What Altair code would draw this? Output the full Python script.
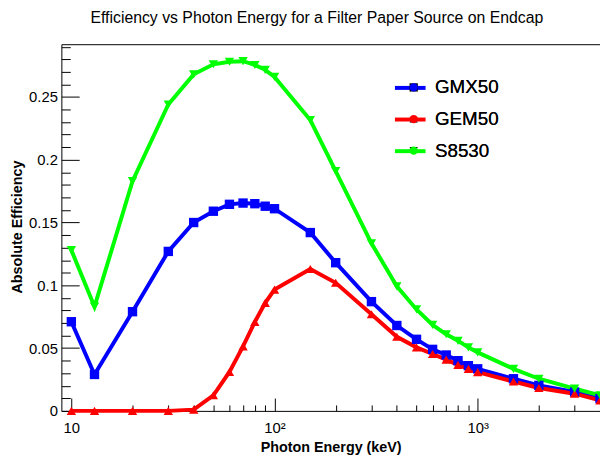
import altair as alt
import pandas as pd

# ---- data ----
energy = [10, 13, 20, 30, 40, 50, 60, 70, 80, 90, 100, 150, 200, 300, 400,
          500, 600, 700, 800, 900, 1000, 1500, 2000, 3000, 4000]
gmx50 = [0.071, 0.029, 0.079, 0.127, 0.150, 0.159, 0.1645, 0.1655, 0.165, 0.163,
         0.161, 0.142, 0.118, 0.087, 0.068, 0.057, 0.049, 0.0445, 0.040, 0.036,
         0.0335, 0.0256, 0.0203, 0.015, 0.0098]
gem50 = [0.0, 0.0, 0.0, 0.0, 0.001, 0.0124, 0.031, 0.0514, 0.0708, 0.086,
         0.0966, 0.113, 0.102, 0.077, 0.059, 0.0506, 0.0453, 0.0408, 0.0366, 0.0335,
         0.0309, 0.0234, 0.0182, 0.0137, 0.0084]
s8530 = [0.128, 0.083, 0.183, 0.244, 0.268, 0.276, 0.278, 0.2785, 0.2755, 0.2716,
         0.266, 0.2316, 0.191, 0.1334, 0.0992, 0.0808, 0.0685, 0.061, 0.0558, 0.0506,
         0.0466, 0.0335, 0.0256, 0.0177, 0.0124]

series_names = ["GMX50", "GEM50", "S8530"]
colors = ["#0000ff", "#ff0000", "#00ff00"]
shapes = ["square", "triangle-up", "triangle-down"]

x_major = [10, 100, 1000]
x_minor = [20, 30, 40, 50, 60, 70, 80, 90, 200, 300, 400, 500, 600, 700, 800, 900,
           2000, 3000, 4000]
y_major = [0, 0.05, 0.1, 0.15, 0.2, 0.25]
y_minor = [0.01, 0.02, 0.03, 0.04, 0.06, 0.07, 0.08, 0.09, 0.11, 0.12, 0.13, 0.14,
           0.16, 0.17, 0.18, 0.19, 0.21, 0.22, 0.23, 0.24, 0.26, 0.27, 0.28, 0.29]

rows = []
for name, vals in zip(series_names, [gmx50, gem50, s8530]):
    for e, v in zip(energy, vals):
        rows.append({"energy": e, "eff": v, "series": name, "name": name})
df = pd.DataFrame(rows)

W, H = 545, 371
FONT = "Liberation Sans"
xscale = alt.Scale(type="log", domain=[8.93, 4000])
yscale = alt.Scale(domain=[0, 0.292])

base = alt.Chart(df)

lines = base.mark_line(strokeWidth=4).encode(
    x=alt.X("energy:Q", scale=xscale, axis=alt.Axis(
        orient="bottom", values=x_major,
        labelExpr="datum.value == 10 ? '10' : datum.value == 100 ? '10²' : datum.value == 1000 ? '10³' : ''",
        ticks=False, domain=True, labelFontSize=15, labelPadding=10,
        title="Photon Energy (keV)", titleFontWeight="bold", titleFontSize=14.5,
        titleY=41, titleBaseline="alphabetic", grid=False)),
    y=alt.Y("eff:Q", scale=yscale, axis=alt.Axis(
        orient="left", values=y_major, format=".2~f", ticks=False, domain=True,
        labelFontSize=15, labelPadding=4, title="Absolute Efficiency",
        titleFontWeight="bold", titleFontSize=14.5, titleX=-44, titleY=184.5,
        titleAngle=270, titleAlign="center", titleBaseline="middle", grid=False)),
    color=alt.Color("series:N", scale=alt.Scale(domain=series_names, range=colors),
                    legend=alt.Legend(orient="none", legendX=335.5, legendY=26.7,
                                      symbolType="stroke", symbolSize=961,
                                      symbolStrokeWidth=4, labelExpr="''",
                                      labelFontSize=19, title=None, padding=0,
                                      rowPadding=4)),
)

leg = dict(orient="none", legendX=347, legendY=34.2, labelFontSize=19, title=None,
           padding=0, rowPadding=12, symbolSize=70, labelOffset=12,
           symbolStrokeWidth=0, labelColor="black")
points = base.mark_point(filled=True, size=90, opacity=1).encode(
    x=alt.X("energy:Q", scale=xscale, axis=alt.Axis(
        orient="top", labels=False, ticks=False, domain=True, title=None, grid=False)),
    y=alt.Y("eff:Q", scale=yscale, axis=alt.Axis(
        orient="right", offset=-W, values=y_major, tickSize=18, labels=False,
        domain=False, title=None, grid=False)),
    fill=alt.Fill("name:N", sort=series_names, scale=alt.Scale(range=colors),
                  legend=alt.Legend(**leg)),
    shape=alt.Shape("name:N", sort=series_names, scale=alt.Scale(range=shapes),
                    legend=alt.Legend(**leg)),
)

ticks1 = base.mark_point(opacity=0).encode(
    x=alt.X("energy:Q", scale=xscale, axis=alt.Axis(
        orient="top", offset=-H, values=x_major, tickSize=13, labels=False,
        domain=False, title=None, grid=False)),
    y=alt.Y("eff:Q", scale=yscale, axis=alt.Axis(
        orient="right", offset=-W, values=y_minor, tickSize=9, labels=False,
        domain=False, title=None, grid=False)),
)

ticks2 = base.mark_point(opacity=0).encode(
    x=alt.X("energy:Q", scale=xscale, axis=alt.Axis(
        orient="top", offset=-H, values=x_minor, tickSize=6, labels=False,
        domain=False, title=None, grid=False)),
    y=alt.Y("eff:Q", scale=yscale, axis=None),
)

chart = alt.layer(lines, points, ticks1, ticks2).resolve_axis(
    x="independent", y="independent"
).properties(
    width=W, height=H,
    title=alt.Title("Efficiency vs Photon Energy for a Filter Paper Source on Endcap",
                    fontSize=16, font=FONT, fontWeight="normal", anchor="middle",
                    frame="group", dx=-14, offset=5, baseline="alphabetic",
                    color="black"),
    padding={"left": 54, "top": 34, "right": 0, "bottom": 43},
    autosize=alt.AutoSizeParams(type="none"),
).configure_view(stroke=None).configure_axis(
    labelFont=FONT, titleFont=FONT, labelColor="black", titleColor="black",
    tickColor="black", domainColor="black", tickWidth=1, domainWidth=1
).configure_legend(labelFont=FONT)

chart.save("out.html", embed_options={"renderer": "svg", "actions": False})
